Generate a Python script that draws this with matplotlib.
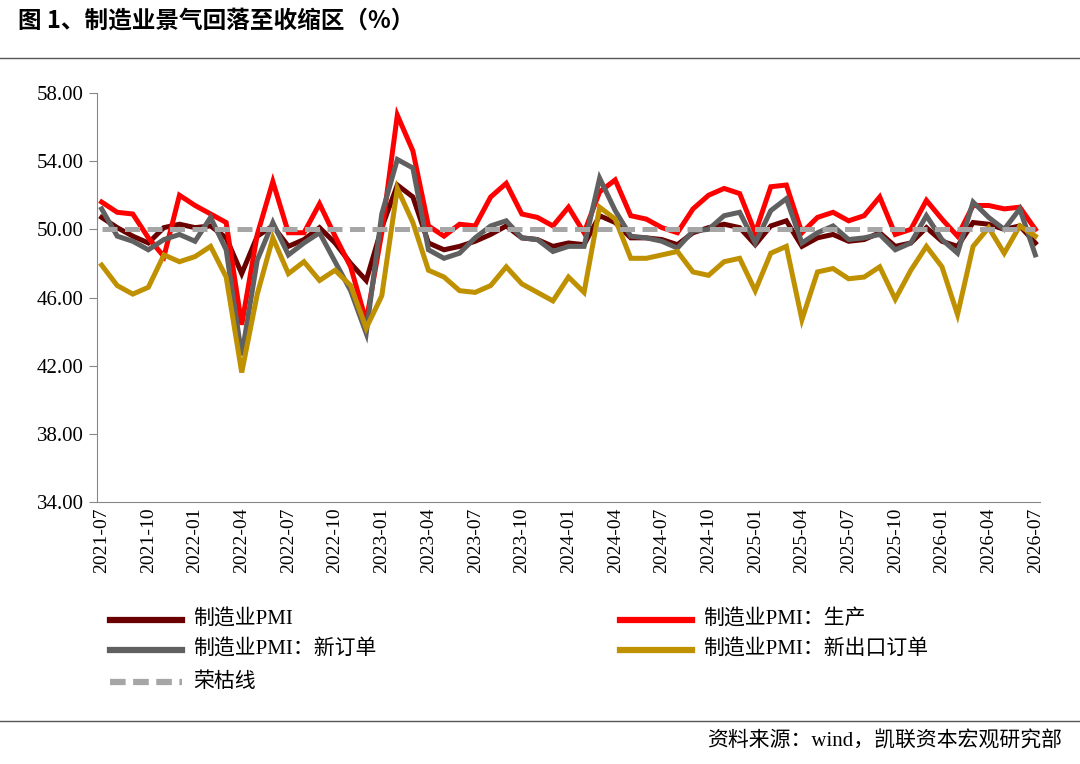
import numpy as np
import pandas as pd
import matplotlib
matplotlib.use("Agg")
import matplotlib.pyplot as plt
from matplotlib.lines import Line2D

plt.rcParams['font.family'] = ['Liberation Serif', 'Noto Sans CJK SC']

months = pd.date_range("2021-07-01", "2026-07-01", freq="MS")
labels = [d.strftime("%Y-%m") for d in months]

pmi = [50.7, 50.1, 49.6, 49.2, 50.1, 50.3, 50.1, 50.2, 49.5, 47.4, 49.6, 50.2,
       49.0, 49.4, 50.1, 49.2, 48.0, 47.0, 50.1, 52.6, 51.9, 49.2, 48.8, 49.0,
       49.3, 49.7, 50.2, 49.5, 49.4, 49.0, 49.2, 49.1, 50.8, 50.4, 49.5, 49.5,
       49.4, 49.1, 49.8, 50.1, 50.3, 50.1, 49.1, 50.2, 50.5, 49.0, 49.5, 49.7,
       49.3, 49.4, 49.8, 49.0, 49.2, 50.1, 49.3, 49.0, 50.4, 50.3, 50.0, 50.2, 49.2]
production = [51.6, 51.0, 50.9, 49.5, 48.4, 52.0, 51.4, 50.9, 50.4, 44.4, 49.7, 52.8,
              49.8, 49.8, 51.5, 49.6, 47.8, 44.6, 49.8, 56.7, 54.6, 50.2, 49.6, 50.3,
              50.2, 51.9, 52.7, 50.9, 50.7, 50.2, 51.3, 49.8, 52.2, 52.9, 50.8, 50.6,
              50.1, 49.8, 51.2, 52.0, 52.4, 52.1, 49.8, 52.5, 52.6, 49.8, 50.7, 51.0,
              50.5, 50.8, 51.9, 49.7, 50.0, 51.7, 50.6, 49.6, 51.4, 51.4, 51.2, 51.3, 50.0]
new_orders = [51.2, 49.6, 49.3, 48.8, 49.4, 49.7, 49.3, 50.7, 48.8, 42.6, 48.2, 50.4,
              48.5, 49.2, 49.8, 48.1, 46.4, 43.9, 50.9, 54.1, 53.6, 48.8, 48.3, 48.6,
              49.5, 50.2, 50.5, 49.5, 49.4, 48.7, 49.0, 49.0, 53.0, 51.1, 49.6, 49.5,
              49.3, 48.9, 49.9, 50.0, 50.8, 51.0, 49.2, 51.1, 51.8, 49.2, 49.8, 50.2,
              49.4, 49.5, 49.7, 48.8, 49.2, 50.8, 49.4, 48.6, 51.6, 50.7, 50.0, 51.2, 48.5]
export_orders = [47.9, 46.7, 46.2, 46.6, 48.5, 48.1, 48.4, 49.0, 47.2, 41.6, 46.2, 49.5,
                 47.4, 48.1, 47.0, 47.6, 46.7, 44.2, 46.1, 52.4, 50.4, 47.6, 47.2, 46.4,
                 46.3, 46.7, 47.8, 46.8, 46.3, 45.8, 47.2, 46.3, 51.3, 50.6, 48.3, 48.3,
                 48.5, 48.7, 47.5, 47.3, 48.1, 48.3, 46.4, 48.6, 49.0, 44.7, 47.5, 47.7,
                 47.1, 47.2, 47.8, 45.9, 47.6, 49.0, 47.8, 45.0, 49.0, 50.1, 48.6, 50.2, 49.6]
boom_line = [50.0] * len(months)

series = [
    ("制造业PMI", pmi, "#6B0000", "-"),
    ("制造业PMI：生产", production, "#FF0000", "-"),
    ("制造业PMI：新订单", new_orders, "#606060", "-"),
    ("制造业PMI：新出口订单", export_orders, "#BF9000", "-"),
    ("荣枯线", boom_line, "#A6A6A6", "--"),
]

fig = plt.figure(figsize=(10.8, 7.64), dpi=100)
ax = fig.add_axes([97 / 1080, 1 - 502 / 764, 943 / 1080, 409 / 764])

x = np.arange(len(months))
for i in [3, 1, 0, 2, 4]:
    name, vals, color, ls = series[i]
    kw = {"dashes": (3, 1.5)} if ls == "--" else {}
    ax.plot(x, vals, color=color, lw=3.6, ls=ls, solid_joinstyle="miter", zorder=3 + i, **kw)

ax.set_xlim(-0.3, len(months) - 0.7)
ax.set_ylim(34, 58)
ticks = np.arange(34, 58.1, 4)
ax.set_yticks(ticks)
ax.set_yticklabels([f"{v:.2f}" for v in ticks], fontsize=15)
ax.set_xticks(x[::3])
ax.set_xticklabels(labels[::3], rotation=90, fontsize=14)
for s in ["top", "right"]:
    ax.spines[s].set_visible(False)
ax.spines["left"].set_color("#888888")
ax.spines["bottom"].set_color("#888888")
ax.tick_params(axis="y", direction="out", length=6, color="#888888")
ax.tick_params(axis="x", length=0, pad=4)

legend_pos = [(110, 620), (620, 620), (110, 650), (620, 650), (110, 682)]
for (name, _, color, ls), (lx, ly) in zip(series, legend_pos):
    kw = {"dashes": (2.5, 1.2)} if ls == "--" else {}
    fig.add_artist(Line2D([lx / 1080, (lx + 72) / 1080], [1 - ly / 764] * 2,
                          transform=fig.transFigure, color=color, lw=4.5, ls=ls, **kw))
    fig.text((lx + 83) / 1080, 1 - ly / 764, name, fontsize=15, va="center")

fig.text(18 / 1080, 1 - 20 / 764, "图 1、制造业景气回落至收缩区（%）", fontsize=17,
         fontweight="bold", va="center", family=['Noto Sans CJK SC'])
fig.add_artist(Line2D([0, 1], [1 - 58 / 764] * 2, transform=fig.transFigure, color="#555555", lw=1))
fig.add_artist(Line2D([0, 1], [1 - 721 / 764] * 2, transform=fig.transFigure, color="#555555", lw=1))
fig.text(1062 / 1080, 1 - 742 / 764, "资料来源：wind，凯联资本宏观研究部", fontsize=15,
         ha="right", va="center")

fig.savefig("out.png", dpi=100)
